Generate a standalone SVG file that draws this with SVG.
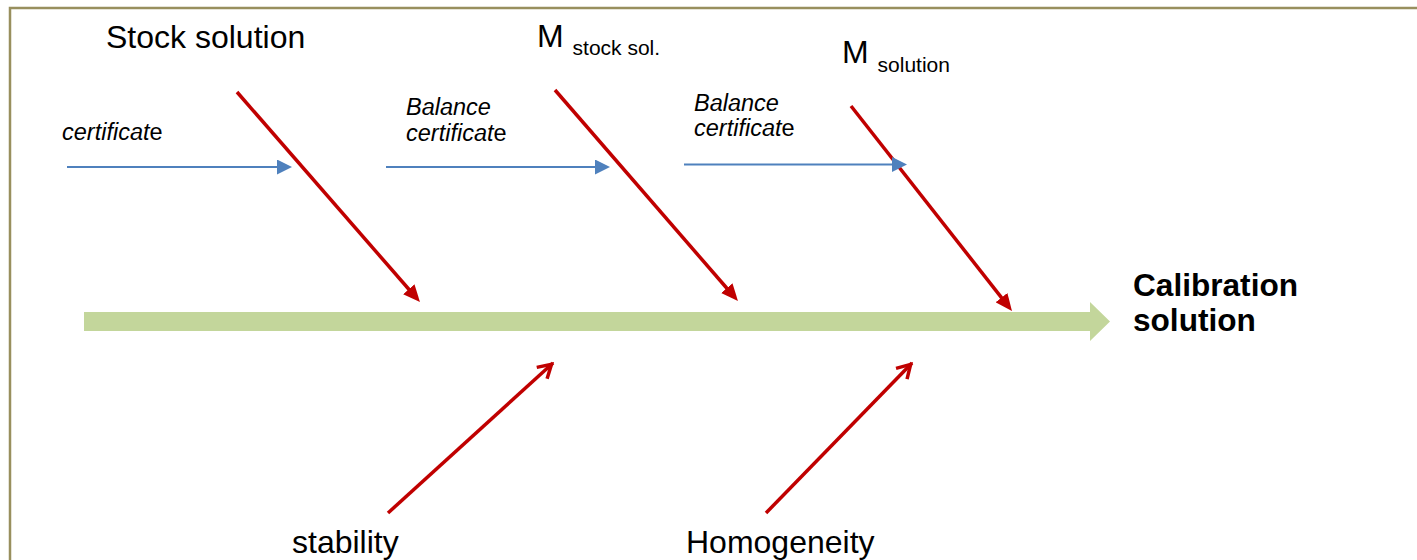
<svg xmlns="http://www.w3.org/2000/svg" width="1417" height="560" viewBox="0 0 1417 560">
  <style>
    .lbl { font-family: "Liberation Sans", Arial, sans-serif; fill: #000; }
    .big { font-size: 32px; }
    .sub { font-size: 21px; }
    .it { font-size: 23.5px; font-style: italic; }
    .bold { font-size: 31.6px; font-weight: bold; }
    .red { stroke: #c00000; stroke-width: 3.5; fill: none; }
    .blue { stroke: #4f81bd; stroke-width: 2; fill: none; }
  </style>
  <defs>
    <marker id="redFilled" markerUnits="userSpaceOnUse" viewBox="0 0 17 15" markerWidth="17" markerHeight="15" refX="7" refY="7.5" orient="auto">
      <path d="M0,0 L17,7.5 L0,15 z" fill="#c00000"/>
    </marker>
    <marker id="redOpen" markerUnits="userSpaceOnUse" viewBox="-22 -14 28 28" markerWidth="28" markerHeight="28" refX="0" refY="0" orient="auto">
      <path d="M-15,-7.7 L-2,0 L-15,7.7" fill="none" stroke="#c00000" stroke-width="3.5" stroke-linejoin="miter"/>
    </marker>
    <marker id="blueFilled" markerUnits="userSpaceOnUse" viewBox="0 0 15 15" markerWidth="15" markerHeight="15" refX="0" refY="7.5" orient="auto">
      <path d="M0,0 L15,7.5 L0,15 z" fill="#4f81bd"/>
    </marker>
  </defs>

  <rect id="frame" x="10" y="8" width="1420" height="570" fill="none" stroke="#988f5e" stroke-width="2.5"/>

  <g id="spine">
    <polygon points="84,312 1090,312 1090,302 1110,321.5 1090,341 1090,331 84,331" fill="#c3d69b"/>
  </g>

  <g id="connectors">
    <line class="red" x1="237" y1="92" x2="413.4" y2="294.5" marker-end="url(#redFilled)"/>
    <line class="red" x1="555" y1="90" x2="731.4" y2="293.5" marker-end="url(#redFilled)"/>
    <line class="red" x1="851" y1="106" x2="1005.8" y2="303.1" marker-end="url(#redFilled)"/>
    <line class="red" x1="388" y1="513" x2="553" y2="363" marker-end="url(#redOpen)"/>
    <line class="red" x1="766" y1="513" x2="912" y2="363" marker-end="url(#redOpen)"/>
    <line class="blue" x1="67" y1="167" x2="277" y2="167" marker-end="url(#blueFilled)"/>
    <line class="blue" x1="386" y1="167" x2="595" y2="167" marker-end="url(#blueFilled)"/>
    <line class="blue" x1="684" y1="164.5" x2="892" y2="164.5" marker-end="url(#blueFilled)"/>
  </g>

  <g id="node-stock-solution">
    <text class="lbl big" x="106" y="48">Stock solution</text>
  </g>
  <g id="node-m-stock">
    <text class="lbl big" x="537" y="47">M <tspan class="sub" dy="8">stock sol.</tspan></text>
  </g>
  <g id="node-m-solution">
    <text class="lbl big" x="842" y="63">M <tspan class="sub" dy="9">solution</tspan></text>
  </g>
  <g id="node-certificate">
    <text class="lbl it" x="62" y="140">certificat<tspan font-style="normal">e</tspan></text>
  </g>
  <g id="node-balance-1">
    <text class="lbl it" x="406" y="115">Balance</text>
    <text class="lbl it" x="406" y="141">certificat<tspan font-style="normal">e</tspan></text>
  </g>
  <g id="node-balance-2">
    <text class="lbl it" x="694" y="111">Balance</text>
    <text class="lbl it" x="694" y="136">certificat<tspan font-style="normal">e</tspan></text>
  </g>
  <g id="node-calibration">
    <text class="lbl bold" x="1133" y="296">Calibration</text>
    <text class="lbl bold" x="1133" y="331">solution</text>
  </g>
  <g id="node-stability">
    <text class="lbl big" x="292" y="553">stability</text>
  </g>
  <g id="node-homogeneity">
    <text class="lbl big" x="686" y="553">Homogeneity</text>
  </g>
</svg>
